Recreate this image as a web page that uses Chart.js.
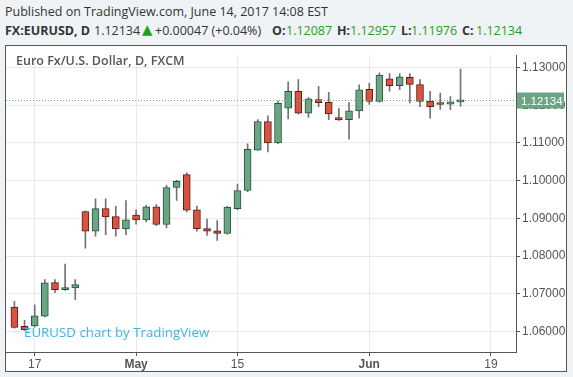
<!DOCTYPE html>
<html>
<head>
<meta charset="utf-8">
<script src="https://cdn.jsdelivr.net/npm/chart.js@4/dist/chart.umd.min.js"></script>
<style>
  body { margin:0; background:#f0f3f6; width:573px; height:377px; overflow:hidden; font-family:'Open Sans', sans-serif; }
  #pub { position:absolute; left:5px; top:3px; font-size:12.5px; color:#333; }
  #sym span { position:absolute; top:22px; font-size:12.5px; color:#333; white-space:nowrap; }
  #sym .b { font-weight:700; }
  #sym .g { color:#1f9e1f; }
  #sym .tri { font-family:'DejaVu Sans', sans-serif; font-size:13.5px; top:21px; }
  #frame { position:absolute; left:5px; top:45px; width:560px; height:325px; border:1px solid #555; background:#fff; }
  #title { position:absolute; left:10px; top:6px; font-size:12.5px; font-weight:600; color:#555; }
  #mark { position:absolute; left:18px; top:277px; font-size:13.3px; color:#3cb4e6; }
</style>
</head>
<body>
<div id="pub">Published on TradingView.com, June 14, 2017 14:08 EST</div>
<div id="sym">
  <span class="b" style="left:5px">FX:EURUSD, D</span>
  <span style="left:94px">1.12134</span>
  <span class="g tri" style="left:142px">▲</span>
  <span style="left:155px">+0.00047 (+0.04%)</span>
  <span class="b" style="left:272px">O:</span><span class="g" style="left:286px">1.12087</span>
  <span class="b" style="left:337px">H:</span><span class="g" style="left:350px">1.12957</span>
  <span class="b" style="left:401px">L:</span><span class="g" style="left:411px">1.11976</span>
  <span class="b" style="left:462px">C:</span><span class="g" style="left:476px">1.12134</span>
</div>
<div id="frame">
  <canvas id="eurusdChart" width="560" height="325"></canvas>
  <div id="title">Euro Fx/U.S. Dollar, D, FXCM</div>
  <div id="mark">EURUSD chart by TradingView</div>
</div>
<script>
const days = ['Apr 13','Apr 14','Apr 17','Apr 18','Apr 19','Apr 20','Apr 21','Apr 24','Apr 25','Apr 26','Apr 27','Apr 28',
  'May 1','May 2','May 3','May 4','May 5','May 8','May 9','May 10','May 11','May 12','May 15','May 16','May 17','May 18','May 19',
  'May 22','May 23','May 24','May 25','May 26','May 29','May 30','May 31','Jun 1','Jun 2','Jun 5','Jun 6','Jun 7','Jun 8','Jun 9',
  'Jun 12','Jun 13','Jun 14'];
const opens  = [1.0665,1.0614,1.0615,1.0641,1.0730,1.0711,1.0716,1.0918,1.0866,1.0926,1.0905,1.0872,
  1.0909,1.0896,1.0931,1.0884,1.0982,1.1016,1.0923,1.0873,1.0867,1.0860,1.0926,1.0974,1.1081,1.1157,1.1100,
  1.1192,1.1237,1.1179,1.1215,1.1208,1.1167,1.1162,1.1185,1.1242,1.1210,1.1270,1.1252,1.1274,1.1255,1.1211,
  1.1206,1.1203,1.12087];
const highs  = [1.0680,1.0630,1.0671,1.0738,1.0738,1.0779,1.0738,1.0920,1.0952,1.0952,1.0932,1.0947,
  1.0923,1.0935,1.0937,1.0988,1.1001,1.1021,1.0933,1.0898,1.0894,1.0932,1.0991,1.1098,1.1162,1.1172,1.1211,
  1.1262,1.1268,1.1220,1.1250,1.1234,1.1191,1.1207,1.1254,1.1258,1.1286,1.1284,1.1284,1.1284,1.1268,1.1237,
  1.1232,1.1223,1.12957];
const lows   = [1.0609,1.0603,1.0612,1.0639,1.0703,1.0709,1.0685,1.0821,1.0853,1.0857,1.0853,1.0857,
  1.0885,1.0891,1.0881,1.0875,1.0948,1.0917,1.0866,1.0855,1.0842,1.0858,1.0923,1.0971,1.1080,1.1076,1.1098,
  1.1164,1.1177,1.1168,1.1196,1.1162,1.1160,1.1110,1.1166,1.1202,1.1208,1.1237,1.1241,1.1206,1.1196,1.1166,
  1.1189,1.1188,1.11976];
const closes = [1.0611,1.0605,1.0642,1.0729,1.0711,1.0717,1.0725,1.0866,1.0926,1.0904,1.0872,1.0896,
  1.0896,1.0931,1.0884,1.0982,1.0998,1.0922,1.0873,1.0866,1.0860,1.0930,1.0974,1.1083,1.1157,1.1100,1.1205,
  1.1237,1.1179,1.1217,1.1207,1.1177,1.1161,1.1185,1.1241,1.1210,1.1280,1.1252,1.1275,1.1255,1.1210,1.1196,
  1.1202,1.1209,1.12134];

// x axis marks (trading-day index) and their labels
const xTickIdx = [2, 12, 22, 35, 47];
const xTickText = ['17', 'May', '15', 'Jun', '19'];
const yTicks = [1.06, 1.07, 1.08, 1.09, 1.10, 1.11, 1.12, 1.13];
const lastPrice = 1.12134;

const UP = '#6ba583', DOWN = '#d75442', UP_BORDER = '#225437', DOWN_BORDER = '#5b1a13', WICK = '#737375';
const isUp = i => closes[i] >= opens[i];

const bodies = days.map((_, i) => ({ x: i, y: [Math.min(opens[i], closes[i]), Math.max(opens[i], closes[i])] }));
const wicks = days.map((_, i) => ({ x: i, y: [lows[i], highs[i]] }));

const priceLine = {
  id: 'price-line',
  afterDraw(chart) {
    const { ctx, chartArea: { left, right }, scales: { y } } = chart;
    const py = Math.round(y.getPixelForValue(lastPrice)) + 0.5;
    ctx.save();
    ctx.strokeStyle = UP;
    ctx.lineWidth = 1;
    ctx.setLineDash([1, 2]);
    ctx.beginPath();
    ctx.moveTo(left, py);
    ctx.lineTo(right, py);
    ctx.stroke();
    ctx.setLineDash([]);
    ctx.fillStyle = UP;
    ctx.fillRect(right + 1, py - 8, 47, 16);
    ctx.fillStyle = '#fff';
    ctx.font = '11.5px "Liberation Sans", Arial, sans-serif';
    ctx.textBaseline = 'middle';
    ctx.fillText(lastPrice.toFixed(5), right + 5, py + 1);
    ctx.restore();
  }
};

new Chart(document.getElementById('eurusdChart'), {
  type: 'bar',
  data: {
    datasets: [
      {
        label: 'body', data: bodies, order: 0, grouped: false,
        barThickness: 7, minBarLength: 2, borderWidth: 1, borderSkipped: false,
        backgroundColor: days.map((_, i) => isUp(i) ? UP : DOWN),
        borderColor: days.map((_, i) => isUp(i) ? UP_BORDER : DOWN_BORDER)
      },
      {
        label: 'wick', data: wicks, order: 1, grouped: false,
        barThickness: 1, borderWidth: 0, backgroundColor: WICK
      }
    ]
  },
  options: {
    responsive: false,
    animation: false,
    layout: { padding: 0 },
    plugins: { legend: { display: false }, tooltip: { enabled: false } },
    scales: {
      x: {
        type: 'linear', min: -0.83, max: 49.47, offset: false,
        afterBuildTicks: s => { s.ticks = xTickIdx.map(v => ({ value: v })); },
        afterFit: s => { s.height = 19; },
        grid: { color: '#e9e9e9', offset: false, tickLength: 4, tickColor: '#555' },
        border: { color: '#555' },
        ticks: {
          padding: 1, color: '#555', maxRotation: 0, autoSkip: false,
          callback: v => xTickText[xTickIdx.indexOf(v)],
          font: c => ({ family: '"Liberation Sans", Arial, sans-serif', size: 12,
            weight: /^[A-Z]/.test(xTickText[c.index] || '') ? 'bold' : 'normal' })
        }
      },
      y: {
        type: 'linear', position: 'right', min: 1.0546, max: 1.13326,
        afterBuildTicks: s => { s.ticks = yTicks.map(v => ({ value: v })); },
        afterFit: s => { s.width = 50; },
        grid: { color: '#e9e9e9', tickLength: 4, tickColor: '#555' },
        border: { color: '#555' },
        ticks: {
          padding: 2, color: '#555',
          callback: v => v.toFixed(5),
          font: { family: '"Liberation Sans", Arial, sans-serif', size: 12 }
        }
      }
    }
  },
  plugins: [priceLine]
});
</script>
</body>
</html>
